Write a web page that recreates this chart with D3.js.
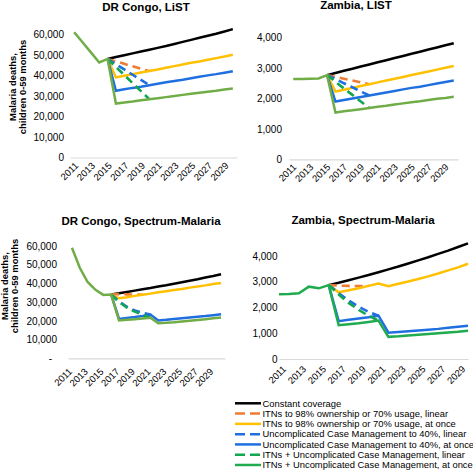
<!DOCTYPE html>
<html><head><meta charset="utf-8">
<script src="https://cdn.jsdelivr.net/npm/d3@7"></script>
<style>
html,body{margin:0;padding:0;background:#fff;}
svg{display:block;font-family:"Liberation Sans",Arial,sans-serif;}
</style></head>
<body>
<svg id="chart" width="473" height="472"></svg>
<script>
// ---------- categories & labels ----------
const years = [2011,2012,2013,2014,2015,2016,2017,2018,2019,2020,2021,2022,2023,2024,2025,2026,2027,2028,2029,2030];
const yearLabels = [2011,2013,2015,2017,2019,2021,2023,2025,2027,2029];
const histYears = [2011,2012,2013,2014,2015,2016];
const drcTicks = [0,10000,20000,30000,40000,50000,60000];
const zamTicks = [0,1000,2000,3000,4000];
const seriesNames = [
  "Constant coverage",
  "ITNs to 98% ownership or 70% usage, linear",
  "ITNs to 98% ownership or 70% usage, at once",
  "Uncomplicated Case Management to 40%, linear",
  "Uncomplicated Case Management to 40%, at once",
  "ITNs + Uncomplicated Case Management, linear",
  "ITNs + Uncomplicated Case Management, at once"
];
const listStart = 2015, spectrumStart = 2016;

// ---------- DR Congo, LiST (historical 2011-2015, projections from 2015) ----------
const drcListHist     = [61000, 56100, 51200, 46300, 48000];
const drcListConst    = [48000, 48900, 49800, 50700, 51600, 52500, 53400, 54300, 55300, 56300, 57300, 58300, 59300, 60300, 61400, 62500];
const drcListItnLin   = [48000, 46800, 45600, 44400, 43200, 42100];
const drcListItnOnce  = [48000, 39000, 39800, 40600, 41400, 42100, 42900, 43700, 44500, 45300, 46100, 46800, 47600, 48400, 49200, 50000];
const drcListCmLin    = [48000, 45400, 42900, 40300, 37800, 35200];
const drcListCmOnce   = [48000, 32500, 33200, 33900, 34500, 35200, 35900, 36600, 37300, 37900, 38600, 39300, 40000, 40600, 41300, 42000];
const drcListBothLin  = [48000, 44100, 40200, 36200, 32300, 28400];
const drcListBothOnce = [48000, 26300, 26800, 27300, 27900, 28400, 28900, 29400, 29900, 30500, 31000, 31500, 32000, 32500, 33100, 33600];

// ---------- Zambia, LiST ----------
const zamListHist     = [2640, 2640, 2650, 2660, 2770];
const zamListConst    = [2770, 2840, 2910, 2980, 3050, 3120, 3190, 3260, 3330, 3400, 3470, 3540, 3610, 3680, 3750, 3820];
const zamListItnLin   = [2770, 2710, 2650, 2590, 2530, 2470];
const zamListItnOnce  = [2770, 2230, 2290, 2350, 2410, 2470, 2530, 2590, 2650, 2710, 2770, 2830, 2890, 2950, 3010, 3070];
const zamListCmLin    = [2770, 2640, 2500, 2370, 2230, 2100];
const zamListCmOnce   = [2770, 1900, 1950, 2000, 2050, 2100, 2150, 2200, 2250, 2300, 2350, 2390, 2440, 2490, 2540, 2590];
const zamListBothLin  = [2770, 2550, 2330, 2120, 1900, 1690];
const zamListBothOnce = [2770, 1540, 1580, 1610, 1650, 1690, 1730, 1760, 1800, 1840, 1880, 1910, 1950, 1990, 2020, 2060];

// ---------- DR Congo, Spectrum-Malaria (historical 2011-2016, projections from 2016) ----------
const drcSpecHist     = [59000, 48300, 40700, 36500, 33800, 34000];
const drcSpecConst    = [34000, 34700, 35400, 36100, 36800, 37500, 38300, 39000, 39800, 40600, 41400, 42200, 43100, 43900, 44800];
const drcSpecItnLin   = [34000, 34200, 34100, 34000, 33900];
const drcSpecItnOnce  = [34000, 32000, 32600, 33300, 33900, 34500, 35200, 35800, 36400, 37000, 37700, 38300, 38900, 39600, 40200];
const drcSpecCmLin    = [34000, 30300, 27500, 25500, 24200, 23300];
const drcSpecCmOnce   = [34000, 21000, 21500, 22000, 22600, 23300, 20200, 20500, 20900, 21300, 21700, 22100, 22500, 23000, 23500];
const drcSpecBothLin  = [34000, 30000, 27000, 24900, 23200, 21600];
const drcSpecBothOnce = [34000, 20200, 20500, 20800, 21200, 21600, 18700, 18900, 19200, 19600, 20000, 20400, 20800, 21300, 21800];

// ---------- Zambia, Spectrum-Malaria ----------
const zamSpecHist     = [2510, 2525, 2550, 2810, 2745, 2870];
const zamSpecConst    = [2870, 2960, 3060, 3160, 3260, 3370, 3480, 3590, 3710, 3830, 3950, 4080, 4210, 4350, 4490];
const zamSpecItnLin   = [2870, 2850, 2840, 2835, 2840];
const zamSpecItnOnce  = [2870, 2590, 2670, 2750, 2840, 2930, 2830, 2920, 3010, 3110, 3210, 3320, 3440, 3560, 3700];
const zamSpecCmLin    = [2870, 2560, 2270, 2030, 1830, 1680];
const zamSpecCmOnce   = [2870, 1470, 1520, 1570, 1620, 1680, 1020, 1050, 1080, 1110, 1140, 1170, 1210, 1250, 1290];
const zamSpecBothLin  = [2870, 2500, 2180, 1910, 1680, 1490];
const zamSpecBothOnce = [2870, 1310, 1350, 1390, 1440, 1490, 860, 880, 910, 940, 970, 1000, 1030, 1060, 1100];

// ---------- styles ----------
const C = {black:"#000000", orange:"#ed7d31", yellow:"#ffc000", blue:"#1f6fe0", greenD:"#13a650", olive:"#70ad47", green:"#1fab4e"};
const DASH = "8,5";

const svg = d3.select("#chart");

const panels = [
  {title:"DR Congo,  LiST", tx:146, ty:11, start:listStart, hist:drcListHist, histYears:histYears.slice(0,5),
   series:[drcListConst,drcListItnLin,drcListItnOnce,drcListCmLin,drcListCmOnce,drcListBothLin,drcListBothOnce],
   green:C.olive, yDomain:[0,60000], yRange:[157.5,34.3], ticks:drcTicks, labelX:64,
   xRange:[70,237], pad:0.5, lx:2, ly:6.5, ytitle:[16,25.5,87]},
  {title:"Zambia, LIST", tx:356, ty:9, start:listStart, hist:zamListHist, histYears:histYears.slice(0,5),
   series:[zamListConst,zamListItnLin,zamListItnOnce,zamListCmLin,zamListCmOnce,zamListBothLin,zamListBothOnce],
   green:C.olive, yDomain:[0,4000], yRange:[159.3,37.7], ticks:zamTicks, labelX:282,
   xRange:[289,458], pad:0.5, lx:1, ly:6, ytitle:null},
  {title:"DR Congo, Spectrum-Malaria", tx:141, ty:225, start:spectrumStart, hist:drcSpecHist, histYears:histYears,
   series:[drcSpecConst,drcSpecItnLin,drcSpecItnOnce,drcSpecCmLin,drcSpecCmOnce,drcSpecBothLin,drcSpecBothOnce],
   green:C.olive, yDomain:[0,60000], yRange:[358.3,245.8], ticks:drcTicks, labelX:57, dashZero:true,
   xRange:[68,225], pad:0.5, lx:-2, ly:11.5, ytitle:[7.5,17.5,286]},
  {title:"Zambia, Spectrum-Malaria", tx:363, ty:223.5, start:spectrumStart, hist:zamSpecHist, histYears:histYears,
   series:[zamSpecConst,zamSpecItnLin,zamSpecItnOnce,zamSpecCmLin,zamSpecCmOnce,zamSpecBothLin,zamSpecBothOnce],
   green:C.green, yDomain:[0,4000], yRange:[359,256], ticks:zamTicks, labelX:277.5,
   xRange:[279,468], pad:0, lx:5, ly:8.3, ytitle:null}
];

function styles(p){
  return [
    {color:C.black, dash:null, w:2.5},
    {color:C.orange, dash:DASH, w:2.6},
    {color:C.yellow, dash:null, w:2.5},
    {color:C.blue, dash:DASH, w:2.6},
    {color:C.blue, dash:null, w:2.5},
    {color:C.greenD, dash:DASH, w:2.6},
    {color:p.green, dash:null, w:2.5}
  ];
}

panels.forEach(p => {
  const g = svg.append("g");
  const x = d3.scalePoint().domain(years).range(p.xRange).padding(p.pad);
  const y = d3.scaleLinear().domain(p.yDomain).range(p.yRange);
  const axisY = p.yRange[0];

  // title
  g.append("text").attr("x",p.tx).attr("y",p.ty).attr("text-anchor","middle")
    .attr("font-size","11.5px").attr("font-weight","bold").attr("fill","#000").text(p.title);

  // x axis
  const xa = g.append("g").attr("transform",`translate(0,${axisY})`)
    .call(d3.axisBottom(x).tickValues(yearLabels).tickSize(0).tickSizeOuter(0));
  xa.select(".domain").attr("stroke","#d9d9d9").attr("stroke-width",1.2);
  xa.selectAll("text").attr("font-family","Liberation Sans, Arial, sans-serif").attr("font-size","9.5px")
    .attr("fill","#000").attr("text-anchor","end").attr("x",0).attr("y",0).attr("dy","0.35em")
    .attr("transform",`translate(${p.lx},${p.ly}) rotate(-45)`);

  // y axis (labels only)
  const fmt = d3.format(",");
  const ya = g.append("g").attr("transform",`translate(${p.labelX},0)`)
    .call(d3.axisLeft(y).tickValues(p.ticks).tickSize(0).tickPadding(0)
      .tickFormat(d => (p.dashZero && d===0) ? "-" : fmt(d)));
  ya.select(".domain").remove();
  ya.selectAll("text").attr("font-family","Liberation Sans, Arial, sans-serif").attr("font-size","10px").attr("fill","#000");
  if (p.dashZero) ya.selectAll("text").filter(d => d===0).attr("x",-5);

  // y title
  if (p.ytitle){
    const [b1,b2,cy] = p.ytitle;
    [["Malaria deaths,",b1],["children 0-59 months",b2]].forEach(([t,bx]) => {
      g.append("text").attr("transform",`translate(${bx},${cy}) rotate(-90)`).attr("text-anchor","middle")
        .attr("font-size","9.4px").attr("font-weight","bold").attr("fill","#000").text(t);
    });
  }

  const line = d3.line().x(d => x(d.yr)).y(d => y(d.v));
  const st = styles(p);
  p.series.forEach((arr,i) => {
    let pts = arr.map((v,k) => ({yr:p.start+k, v}));
    if (i === 6) pts = p.hist.map((v,k) => ({yr:p.histYears[k], v})).concat(pts.slice(1));
    g.append("path").datum(pts).attr("d",line).attr("fill","none")
      .attr("stroke",st[i].color).attr("stroke-width",st[i].w)
      .attr("stroke-dasharray",st[i].dash).attr("stroke-linejoin","miter");
  });
});

// legend
const legStyles = [
  {color:C.black, dash:null},{color:C.orange, dash:"10,5"},{color:C.yellow, dash:null},
  {color:C.blue, dash:"10,5"},{color:C.blue, dash:null},{color:C.greenD, dash:"10,5"},{color:C.green, dash:null}
];
const leg = svg.append("g");
seriesNames.forEach((name,i) => {
  const yy = 403.3 + i*10.28;
  leg.append("line").attr("x1",235).attr("x2",261).attr("y1",yy).attr("y2",yy)
    .attr("stroke",legStyles[i].color).attr("stroke-width",2.5).attr("stroke-dasharray",legStyles[i].dash);
  leg.append("text").attr("x",262.5).attr("y",yy).attr("dy","0.35em").attr("font-size","9.4px")
    .attr("fill","#000").text(name);
});
</script>
</body></html>
